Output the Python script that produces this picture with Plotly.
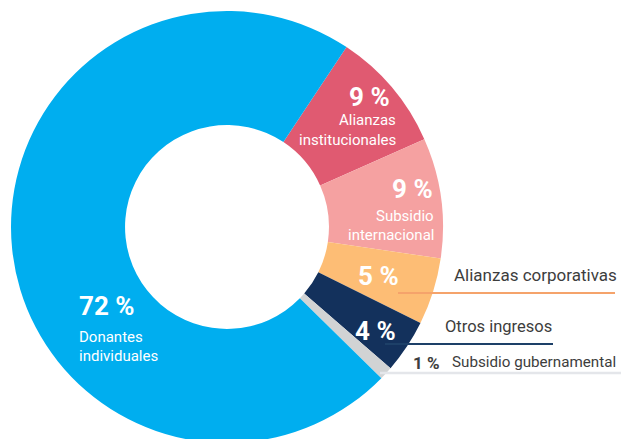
import plotly.graph_objects as go

# ---- data ----
labels = ["Alianzas institucionales", "Subsidio internacional", "Alianzas corporativas",
          "Otros ingresos", "Subsidio gubernamental", "Donantes individuales"]
values = [9, 9, 5, 4, 1, 72]
colors = ["#E05A71", "#F5A1A1", "#FDBD75", "#13315C", "#D1D3D4", "#00AEEF"]

W, H = 621, 454
FONT = "Roboto"


def px(x):
    return x / W


def py(y):
    return 1 - y / H


fig = go.Figure(go.Pie(
    labels=labels, values=values, sort=False, direction="clockwise", rotation=33.6,
    hole=0.472, textinfo="none", hoverinfo="skip",
    marker=dict(colors=colors, line=dict(width=0)),
    domain=dict(x=[px(11), px(443)], y=[py(443), py(11)]),
))

pct = {lab: f"{v} %" for lab, v in zip(labels, values)}
anns = []


def ann(text, x, y, anchor, size, color="white", bold=False):
    anns.append(dict(text=text, x=px(x), y=py(y), xref="paper", yref="paper",
                     xanchor=anchor, yanchor="middle", showarrow=False, borderpad=0,
                     font=dict(family=FONT, size=size, color=color,
                               weight="bold" if bold else "normal")))


# inside labels
ann(pct["Alianzas institucionales"], 391, 97.5, "right", 26, bold=True)
ann("Alianzas", 397, 120, "right", 15)
ann("institucionales", 397, 139.5, "right", 15)
ann(pct["Subsidio internacional"], 434, 189, "right", 26, bold=True)
ann("Subsidio", 435, 215.5, "right", 15)
ann("internacional", 435, 235, "right", 15)
ann(pct["Alianzas corporativas"], 400, 276, "right", 26, bold=True)
ann(pct["Otros ingresos"], 397, 331, "right", 26, bold=True)
ann(pct["Donantes individuales"], 78, 306, "left", 26, bold=True)
ann("Donantes", 78, 336.5, "left", 15)
ann("individuales", 78, 356, "left", 15)

# outside labels
dark = "#3D3D3D"
ann("Alianzas corporativas", 618, 275, "right", 17, color=dark)
ann("Otros ingresos", 553, 326, "right", 16.5, color=dark)
ann(pct["Subsidio gubernamental"], 441, 363, "right", 17, color=dark, bold=True)
ann("Subsidio gubernamental", 617, 362, "right", 15.2, color=dark)

shapes = [
    dict(type="line", xref="paper", yref="paper", x0=px(398), x1=px(615), y0=py(293), y1=py(293),
         line=dict(color="#F5A36B", width=2.2)),
    dict(type="line", xref="paper", yref="paper", x0=px(385), x1=px(553), y0=py(344), y1=py(344),
         line=dict(color="#1D4068", width=2.2)),
    dict(type="line", xref="paper", yref="paper", x0=px(380), x1=px(621), y0=py(373), y1=py(373),
         line=dict(color="#E4E6EA", width=2.5)),
]

fig.update_layout(
    width=W, height=H, margin=dict(l=0, r=0, t=0, b=0),
    paper_bgcolor="white", plot_bgcolor="white", showlegend=False,
    annotations=anns, shapes=shapes,
)

fig.write_html("out.html", config={"displayModeBar": False},
               post_script="document.body.style.margin='0';document.body.style.overflow='hidden';")
